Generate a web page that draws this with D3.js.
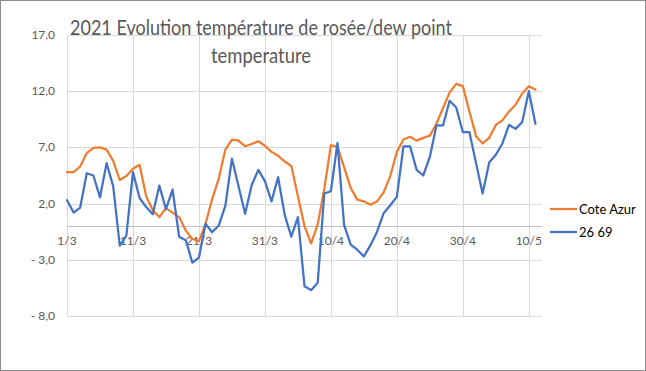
<!DOCTYPE html>
<html>
<head>
<meta charset="utf-8">
<script src="https://cdn.jsdelivr.net/npm/d3@7"></script>
<style>
body { margin: 0; background: #fff; }
text { font-family: Lato, "Open Sans", sans-serif; }
</style>
</head>
<body>
<svg id="chart" width="646" height="371"></svg>
<script>
// dew point, one value per day from 1/3/2021 to 11/5/2021
var coteAzur = [4.8, 4.8, 5.3, 6.5, 6.95, 7.0, 6.8, 5.8, 4.1, 4.45,
    5.1, 5.45, 2.65, 1.4, 0.8, 1.6, 1.2, 0.8, -0.4, -1.15,
    -1.35, 0.2, 2.4, 4.2, 6.8, 7.7, 7.6, 7.1, 7.3, 7.55,
    7.15, 6.6, 6.25, 5.75, 5.35, 2.65, 0.0, -1.55, 0.15, 3.3,
    7.2, 7.05, 5.25, 3.4, 2.35, 2.2, 1.9, 2.2, 3.0, 4.45,
    6.6, 7.7, 7.95, 7.6, 7.85, 8.05, 9.1, 10.5, 11.9, 12.65,
    12.45, 10.2, 8.0, 7.35, 7.85, 9.0, 9.4, 10.2, 10.8, 11.8,
    12.45, 12.15]

var s2669 = [2.3, 1.2, 1.65, 4.7, 4.5, 2.55, 5.6, 3.55, -1.75, -0.85,
    4.8, 2.5, 1.7, 1.05, 3.6, 1.5, 3.25, -0.95, -1.25, -3.25,
    -2.8, 0.2, -0.55, 0.05, 1.8, 6.0, 3.55, 1.1, 3.65, 5.0,
    4.0, 2.2, 4.35, 1.0, -0.95, 0.8, -5.35, -5.7, -5.05, 2.9,
    3.1, 7.4, 0.1, -1.65, -2.1, -2.7, -1.7, -0.5, 1.15, 1.85,
    2.6, 7.1, 7.1, 5.0, 4.5, 6.15, 8.95, 8.95, 11.15, 10.55,
    8.35, 8.35, 5.6, 2.9, 5.65, 6.35, 7.35, 9.0, 8.65, 9.25,
    12.0, 9.1]

var seriesNames = ["Cote Azur", "26 69"]
var seriesColors = ["#ED7D31", "#4472C4"]

var xTickDays = [0, 10, 20, 30, 40, 50, 60, 70]
var xTickLabels = ["1/3", "11/3", "21/3", "31/3", "10/4", "20/4", "30/4", "10/5"]
var yTicks = [17, 12, 7, 2, -3, -8]
var yTickLabels = ["17,0", "12,0", "7,0", "2,0", "- 3,0", "- 8,0"]

var svg = d3.select("#chart")

svg.append("rect")
    .attr("x", 0.5).attr("y", 0.5)
    .attr("width", 645).attr("height", 370)
    .attr("fill", "#fff")
    .attr("stroke", "#8c8c8c")

var xScale = d3.scaleLinear().domain([0, 72]).range([67, 542])
var yScale = d3.scaleLinear().domain([-8, 17]).range([316, 35])

// horizontal gridlines
svg.selectAll(".hgrid")
    .data(yTicks)
    .enter()
    .append("line")
    .attr("x1", xScale(0)).attr("x2", xScale(72))
    .attr("y1", function(d) { return Math.round(yScale(d)) + 0.5 })
    .attr("y2", function(d) { return Math.round(yScale(d)) + 0.5 })
    .attr("stroke", "#d9d9d9")

// vertical gridlines
svg.selectAll(".vgrid")
    .data(xTickDays)
    .enter()
    .append("line")
    .attr("x1", function(d) { return Math.round(xScale(d)) + 0.5 })
    .attr("x2", function(d) { return Math.round(xScale(d)) + 0.5 })
    .attr("y1", yScale(17)).attr("y2", yScale(-8))
    .attr("stroke", "#d9d9d9")

// zero line
svg.append("line")
    .attr("x1", xScale(0)).attr("x2", xScale(72))
    .attr("y1", Math.round(yScale(0)) + 0.5)
    .attr("y2", Math.round(yScale(0)) + 0.5)
    .attr("stroke", "#bfbfbf")

// y labels
svg.selectAll(".ylab")
    .data(yTicks)
    .enter()
    .append("text")
    .attr("x", 55)
    .attr("y", function(d) { return yScale(d) + 4 })
    .attr("text-anchor", "end")
    .attr("font-size", 12)
    .attr("fill", "#595959")
    .text(function(d, i) { return yTickLabels[i] })

// x labels
svg.selectAll(".xlab")
    .data(xTickDays)
    .enter()
    .append("text")
    .attr("x", function(d) { return xScale(d) })
    .attr("y", yScale(0) + 19)
    .attr("text-anchor", "middle")
    .attr("font-size", 12)
    .attr("fill", "#595959")
    .text(function(d, i) { return xTickLabels[i] })

var line = d3.line()
    .x(function(d, i) { return xScale(i) })
    .y(function(d) { return yScale(d) })

var allSeries = [coteAzur, s2669]
allSeries.forEach(function(values, k) {
    svg.append("path")
        .datum(values)
        .attr("d", line)
        .attr("fill", "none")
        .attr("stroke", seriesColors[k])
        .attr("stroke-width", 2.25)
        .attr("stroke-linejoin", "round")
        .attr("stroke-linecap", "round")
})

// title
svg.append("text")
    .attr("x", 261).attr("y", 35)
    .attr("text-anchor", "middle")
    .attr("font-size", 22)
    .attr("fill", "#595959")
    .attr("textLength", 382)
    .attr("lengthAdjust", "spacingAndGlyphs")
    .text("2021 Evolution température de rosée/dew point")
svg.append("text")
    .attr("x", 261).attr("y", 63)
    .attr("text-anchor", "middle")
    .attr("font-size", 22)
    .attr("fill", "#595959")
    .attr("textLength", 100)
    .attr("lengthAdjust", "spacingAndGlyphs")
    .text("temperature")

// legend
seriesNames.forEach(function(name, k) {
    var ly = 209 + k * 23
    svg.append("line")
        .attr("x1", 550).attr("x2", 577)
        .attr("y1", ly).attr("y2", ly)
        .attr("stroke", seriesColors[k])
        .attr("stroke-width", 2.25)
    svg.append("text")
        .attr("x", 579).attr("y", ly + 5)
        .attr("font-size", 13)
        .attr("fill", "#000")
        .text(name)
})
</script>
</body>
</html>
